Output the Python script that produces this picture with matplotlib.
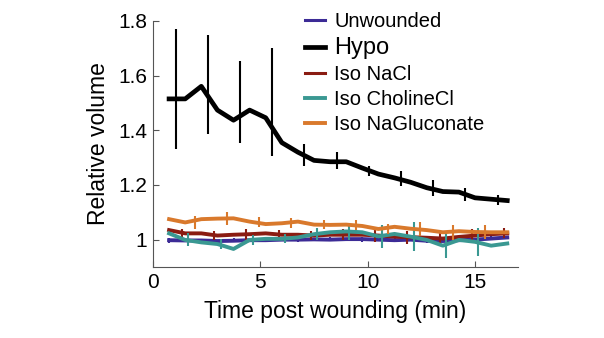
import numpy as np
import matplotlib
matplotlib.use("Agg")
import matplotlib.pyplot as plt

plt.rcParams['font.family'] = ['Liberation Sans', 'DejaVu Sans']

# time points (min) and mean relative volume per condition
time_min = [0.75, 1.5, 2.25, 3.0, 3.75, 4.5, 5.25, 6.0, 6.75, 7.5, 8.25,
            9.0, 9.75, 10.5, 11.25, 12.0, 12.75, 13.5, 14.25, 15.0, 15.75, 16.5]

unwounded = [0.998, 0.997, 0.997, 0.995, 0.996, 0.998, 0.998, 1.0, 1.0, 1.001, 1.0,
             1.002, 1.002, 1.0, 0.998, 1.0, 0.996, 0.995, 0.998, 1.0, 1.004, 1.008]
hypo = [1.515, 1.515, 1.561, 1.474, 1.437, 1.474, 1.446, 1.355, 1.32, 1.29, 1.285,
        1.285, 1.262, 1.24, 1.226, 1.21, 1.19, 1.176, 1.174, 1.153, 1.148, 1.143]
iso_nacl = [1.035, 1.023, 1.023, 1.015, 1.018, 1.02, 1.023, 1.018, 1.018, 1.015, 1.018,
            1.018, 1.018, 1.015, 1.011, 1.009, 1.007, 1.004, 1.01, 1.015, 1.02, 1.023]
iso_choline = [1.023, 0.999, 0.99, 0.984, 0.966, 0.999, 1.003, 1.003, 1.008, 1.02, 1.027,
               1.03, 1.027, 1.012, 1.021, 1.011, 0.999, 0.978, 0.999, 0.992, 0.978, 0.986]
iso_gluconate = [1.075, 1.063, 1.075, 1.077, 1.078, 1.066, 1.057, 1.06, 1.066, 1.055, 1.054,
                 1.055, 1.05, 1.039, 1.047, 1.04, 1.035, 1.027, 1.031, 1.028, 1.027, 1.027]

# sem at every other time point (1.5, 3.0, ...)
unwounded_sem = [0.008] * 11
hypo_lo = [1.331, 1.385, 1.352, 1.307, 1.27, 1.258, 1.232, 1.197, 1.159, 1.143, 1.127]
hypo_hi = [1.770, 1.749, 1.652, 1.701, 1.349, 1.319, 1.27, 1.252, 1.219, 1.188, 1.164]
nacl_sem = [0.015, 0.018, 0.02, 0.017, 0.016, 0.02, 0.024, 0.024, 0.02, 0.024, 0.018]
choline_sem = [0.024, 0.018, 0.018, 0.016, 0.022, 0.03, 0.042, 0.053, 0.045, 0.05]
gluconate_sem = [0.024, 0.024, 0.018, 0.018, 0.017, 0.018, 0.02, 0.026, 0.028, 0.024]

labels = ['Unwounded', 'Hypo', 'Iso NaCl', 'Iso CholineCl', 'Iso NaGluconate']
colors = ['#3c2b96', 'black', '#8a1c12', '#3a9892', '#d9792c']
xticks = [0, 5, 10, 15]
yticks = [1, 1.2, 1.4, 1.6, 1.8]
ytick_labels = ['1', '1.2', '1.4', '1.6', '1.8']

t = np.array(time_min)
t_err = t[1::2]

fig = plt.figure(figsize=(6.04, 3.38), dpi=100)
ax = fig.add_axes([0.2533, 0.2101, 0.6043, 0.7278])

series = [unwounded, hypo, iso_nacl, iso_choline, iso_gluconate]
sems = [unwounded_sem, None, nacl_sem, choline_sem, gluconate_sem]
# errorbars of each condition are nudged sideways so they don't overlap
shifts = [-0.75, -0.45, -0.15, 0.15, 0.45]
widths = [2.8, 3.4, 2.8, 2.8, 2.8]

handles = []
for i, (y, lab, c) in enumerate(zip(series, labels, colors)):
    y = np.array(y)
    h, = ax.plot(t, y, color=c, lw=widths[i], label=lab, solid_joinstyle='round', zorder=3 + i)
    handles.append(h)
    if i == 1:
        ax.vlines(t_err + shifts[i], hypo_lo, hypo_hi, color=c, lw=1.5, zorder=3 + i)
    else:
        sem = sems[i]
        n = len(sem)
        ax.errorbar(t_err[:n] + shifts[i], y[1::2][:n], yerr=sem, fmt='none', ecolor=c,
                    elinewidth=1.5, capsize=0, zorder=3 + i)

ax.set_xlim(0, 17)
ax.set_ylim(0.9, 1.8)
ax.set_xticks(xticks)
ax.set_yticks(yticks)
ax.set_yticklabels(ytick_labels)
ax.tick_params(direction='in', length=4.5, width=0.8, labelsize=15, colors='#555555',
               labelcolor='black', pad=4)
for side in ['top', 'right']:
    ax.spines[side].set_visible(False)
for side in ['left', 'bottom']:
    ax.spines[side].set_color('#555555')
    ax.spines[side].set_linewidth(0.8)

ax.set_xlabel('Time post wounding (min)', fontsize=16.5, labelpad=6)
ax.set_ylabel('Relative volume', fontsize=16.5, labelpad=6)

leg = ax.legend(handles=handles, loc='upper left', bbox_to_anchor=(0.505, 0.965),
                bbox_transform=fig.transFigure, frameon=False, fontsize=14.5,
                handlelength=1.0, handletextpad=0.45, labelspacing=0.3,
                borderaxespad=0, borderpad=0)
leg.get_texts()[1].set_fontsize(17)
leg.get_lines()[0].set_linewidth(2.2)
leg.get_lines()[2].set_linewidth(2.2)

fig.savefig('out.png', dpi=100)
